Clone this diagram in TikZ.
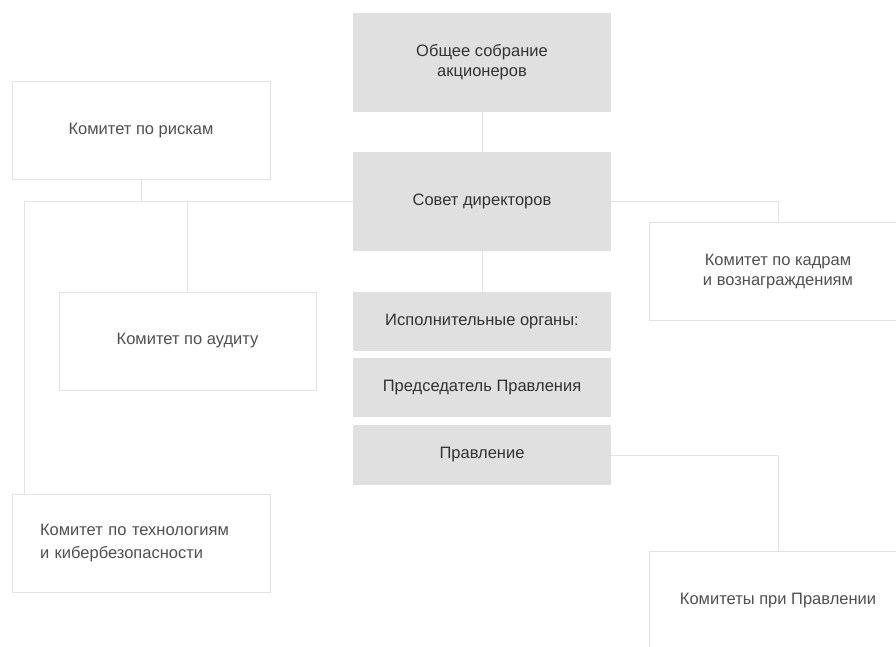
\documentclass[tikz,border=0pt]{standalone}
\usepackage{fontspec}
\setmainfont{Liberation Sans}
\begin{document}
\definecolor{boxgray}{HTML}{E0E0E0}
\definecolor{linegray}{HTML}{E3E3E3}
\definecolor{darktext}{HTML}{333333}
\definecolor{lighttext}{HTML}{505050}
\begin{tikzpicture}[x=1pt,y=-1pt,
  every node/.style={font=\fontsize{16.5}{20}\selectfont},
  graybox/.style={rectangle, fill=boxgray, draw=none, minimum width=258pt, text=darktext, align=center, inner sep=0pt},
  whitebox/.style={rectangle, fill=white, draw=linegray, line width=1pt, minimum width=258pt, minimum height=98pt, text=lighttext, align=center, inner sep=0pt},
  conn/.style={draw=linegray, line width=1pt}]
\useasboundingbox (0,0) rectangle (896,646);
% gray boxes
\node[graybox, minimum height=99pt] (gm) at (482,62.5) {Общее собрание\\акционеров};
\node[graybox, minimum height=99pt] (sd) at (482,201.5) {Совет директоров};
\node[graybox, minimum height=59pt] (io) at (482,321.5) {Исполнительные органы:};
\node[graybox, minimum height=59pt] (pp) at (482,387.5) {Председатель Правления};
\node[graybox, minimum height=60pt] (pr) at (482,455) {Правление};
% white boxes
\node[whitebox] (risk) at (141,130.5) {Комитет по рискам};
\node[whitebox, minimum width=257pt] (audit) at (187.5,341) {Комитет по аудиту};
\node[whitebox, text width=202pt, inner xsep=28pt, align=left, font=\fontsize{16.5}{23}\selectfont] (tech) at (141,543) {Комитет по технологиям\\и кибербезопасности};
\node[whitebox] (kadr) at (778,271.5) {Комитет по кадрам\\и вознаграждениям};
\node[whitebox] (komp) at (778,600.5) {Комитеты при Правлении};
% connectors
\coordinate (lj) at (24,201.5);
\draw[conn] (gm.south) -- (sd.north);
\draw[conn] (sd.south) -- (io.north);
\draw[conn] (sd.west) -- (lj) -- (lj |- tech.north);
\draw[conn] (risk.south) -- (risk.south |- sd.west);
\draw[conn] (audit.north) -- (audit.north |- sd.west);
\draw[conn] (sd.east) -- (kadr.north |- sd.east) -- (kadr.north);
\draw[conn] (pr.east) -- (komp.north |- pr.east) -- (komp.north);
\end{tikzpicture}
\end{document}
